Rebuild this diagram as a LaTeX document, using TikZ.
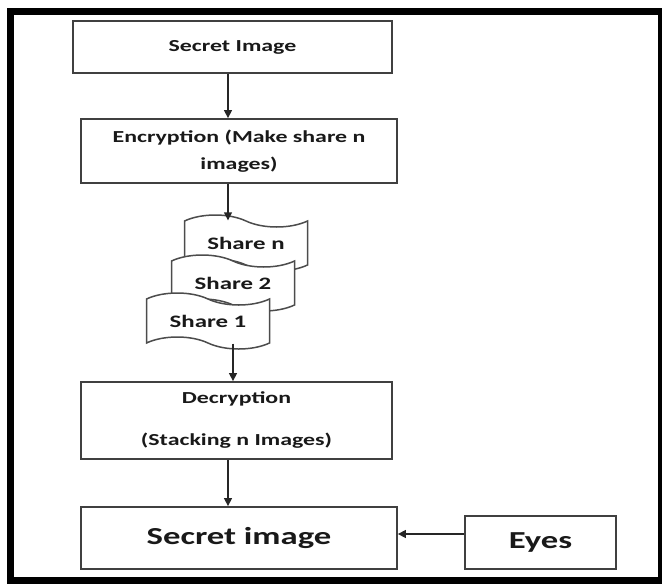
\documentclass[tikz,border=0pt]{standalone}
\usepackage{fontspec}
\setmainfont{Carlito}[FakeStretch=1.42]
\usetikzlibrary{arrows.meta,positioning,shapes.symbols}

\newcommand{\boxfont}{\fontsize{16.8}{27}\selectfont\bfseries}
\newcommand{\sharefont}{\fontsize{17.5}{21}\selectfont\bfseries}
\newcommand{\bigfont}{\fontsize{24.4}{29}\selectfont\bfseries}

\begin{document}
\begin{tikzpicture}[x=1pt,y=-1pt,
  every node/.style={text=black!90},
  stepbox/.style={rectangle,draw=black!75,line width=1.8pt,fill=white,
    inner sep=0pt,align=center,font=\boxfont},
  sharebox/.style={tape,draw=black!70,line width=1.5pt,fill=white,inner sep=0pt,
    minimum width=123pt,minimum height=56pt,tape bend height=12pt,
    tape bend top=out and in,tape bend bottom=out and in,font=\sharefont},
  arr/.style={line width=1.4pt,draw=black!85,-{Triangle[length=8pt,width=8pt]}}]

  \useasboundingbox (0,0) rectangle (662,587);
  % outer frame
  \draw[line width=7pt] (10.5,11.5) rectangle (661,580.5);

  % columns for the arrows
  \coordinate (col) at (228,0);
  \coordinate (colb) at (233,0);
  \coordinate (row) at (0,534);

  % main boxes
  \node[stepbox,minimum width=319pt,minimum height=52pt] (secret) at (232.5,47) {Secret Image};
  \node[stepbox,minimum width=316pt,minimum height=64pt] (encrypt) at (239,151) {Encryption (Make share n\\images)};
  % stacked shares, back to front
  \node[sharebox] (sharen) at (246,243) {Share n};
  \node[sharebox] (share2) at (233,283) {Share 2};
  \node[sharebox] (share1) at (208,321) {Share 1};
  \node[stepbox,minimum width=311pt,minimum height=77pt] (decrypt) at (236.5,420.5) {Decryption\\[15pt](Stacking n Images)};
  \node[stepbox,minimum width=316pt,minimum height=62pt,font=\bigfont] (result) at (239,538) {Secret image};
  \node[stepbox,minimum width=151pt,minimum height=53pt,font=\bigfont] (eyes) at (540.5,542.5) {Eyes};

  % arrows
  \draw[arr] (secret.south -| col) -- (encrypt.north -| col);
  \draw[arr] (encrypt.south -| col) -- (sharen.north -| col);
  \draw[arr] (share1.south -| colb) -- (decrypt.north -| colb);
  \draw[arr] (decrypt.south -| col) -- (result.north -| col);
  \draw[arr] (eyes.west |- row) -- (result.east |- row);
\end{tikzpicture}
\end{document}
